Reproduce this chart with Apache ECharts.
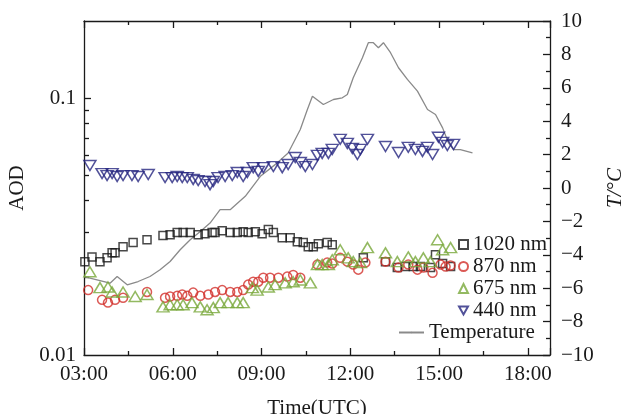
<!DOCTYPE html>
<html lang="en">
<head>
<meta charset="UTF-8">
<title>AOD and temperature</title>
<script src="https://cdn.jsdelivr.net/npm/echarts@6.0.0/dist/echarts.min.js"></script>
<style>
    body{ margin:0; background:#fff; }
    #main{ width:624px; height:414px; }
</style>
</head>
<body>
<div id="main"></div>
<script>
// times in decimal hours (UTC), AOD values
var t1020 = [3.03,3.27,3.54,3.78,3.95,4.05,4.32,4.66,5.13,5.67,5.91,6.15,6.35,6.59,6.86,7.09,7.33,7.43,7.67,7.94,8.18,8.38,8.55,8.79,9.02,9.23,9.40,9.70,9.97,10.21,10.41,10.58,10.75,10.92,11.22,11.39,12.44,13.19,13.59,13.86,14.13,14.37,14.71,14.88,15.12,15.39];
var aod1020 = [0.0231,0.0241,0.0231,0.0239,0.0250,0.0250,0.0264,0.0274,0.0281,0.0292,0.0294,0.0300,0.0300,0.0300,0.0294,0.0297,0.0300,0.0300,0.0305,0.0300,0.0300,0.0302,0.0300,0.0302,0.0297,0.0308,0.0300,0.0286,0.0286,0.0276,0.0274,0.0264,0.0264,0.0271,0.0274,0.0269,0.0239,0.0231,0.0219,0.0221,0.0221,0.0221,0.0219,0.0246,0.0227,0.0221];

var t870 = [3.14,3.61,3.81,4.05,4.32,5.13,5.74,5.91,6.15,6.32,6.49,6.69,6.93,7.20,7.43,7.67,7.94,8.18,8.38,8.55,8.72,8.89,9.06,9.29,9.57,9.87,10.07,10.31,10.89,11.22,11.39,11.66,11.90,12.10,12.27,12.51,13.19,13.63,13.96,14.27,14.47,14.78,15.05,15.22,15.39];
var aod870 = [0.0179,0.0164,0.0160,0.0164,0.0167,0.0176,0.0167,0.0169,0.0170,0.0172,0.0170,0.0175,0.0170,0.0172,0.0176,0.0179,0.0176,0.0176,0.0179,0.0188,0.0193,0.0193,0.0200,0.0200,0.0200,0.0202,0.0205,0.0200,0.0225,0.0229,0.0227,0.0239,0.0231,0.0225,0.0215,0.0229,0.0231,0.0219,0.0225,0.0215,0.0219,0.0209,0.0225,0.0221,0.0223];

var t675 = [3.20,3.54,3.81,3.95,4.32,4.73,5.13,5.67,5.91,6.15,6.35,6.65,6.93,7.16,7.37,7.60,7.87,8.18,8.38,8.69,8.85,9.23,9.46,9.80,10.07,10.31,10.65,10.89,11.05,11.26,11.39,11.66,11.93,12.10,12.34,12.58,13.19,13.59,13.96,14.20,14.47,14.71,14.95,15.12,15.39];
var aod675 = [0.0211,0.0183,0.0184,0.0176,0.0176,0.0169,0.0172,0.0154,0.0157,0.0157,0.0157,0.0160,0.0154,0.0150,0.0153,0.0160,0.0160,0.0160,0.0160,0.0183,0.0179,0.0184,0.0188,0.0191,0.0193,0.0196,0.0191,0.0225,0.0225,0.0225,0.0235,0.0257,0.0239,0.0231,0.0229,0.0262,0.0250,0.0231,0.0241,0.0231,0.0239,0.0231,0.0281,0.0257,0.0262];

var t440 = [3.20,3.61,3.78,3.95,4.12,4.32,4.62,4.83,5.17,5.74,5.98,6.15,6.32,6.49,6.69,6.86,7.09,7.26,7.37,7.53,7.77,8.01,8.18,8.38,8.52,8.72,8.89,9.06,9.40,9.70,9.90,10.14,10.31,10.48,10.72,10.89,11.05,11.26,11.39,11.66,11.90,12.07,12.24,12.34,12.58,13.19,13.63,13.96,14.20,14.44,14.61,14.78,14.98,15.12,15.28,15.49];
var aod440 = [0.0547,0.0509,0.0500,0.0509,0.0496,0.0500,0.0500,0.0496,0.0505,0.0491,0.0491,0.0496,0.0491,0.0491,0.0483,0.0478,0.0474,0.0461,0.0474,0.0491,0.0496,0.0500,0.0514,0.0496,0.0514,0.0537,0.0519,0.0537,0.0542,0.0537,0.0552,0.0588,0.0562,0.0542,0.0552,0.0599,0.0610,0.0610,0.0632,0.0692,0.0667,0.0638,0.0604,0.0632,0.0692,0.0649,0.0615,0.0644,0.0632,0.0621,0.0644,0.0604,0.0705,0.0673,0.0655,0.0661];

// temperature (right axis, deg C)
var tTemp = [3.00,3.88,4.12,4.46,4.83,5.23,5.57,5.91,6.25,6.59,6.93,7.26,7.60,7.94,8.45,8.96,9.46,9.90,10.31,10.55,10.72,11.09,11.43,11.73,11.90,12.10,12.41,12.61,12.78,12.95,13.12,13.36,13.63,13.93,14.27,14.61,14.88,15.12,15.32,15.49,15.72,16.13];
var temp = [-5.3,-5.7,-5.3,-5.8,-5.6,-5.3,-4.9,-4.4,-3.7,-3.1,-2.6,-2.1,-1.3,-1.3,-0.5,0.7,1.4,2.1,3.5,4.7,5.5,5.0,5.3,5.4,5.6,6.6,7.8,8.7,8.7,8.4,8.7,8.1,7.2,6.5,5.8,4.7,4.4,3.6,2.7,2.3,2.3,2.1];

// log axis ticks and labels
var logLabels = [0.01, 0.1];
var logMajor = [0.1];
var logMinor = [0.02,0.03,0.04,0.05,0.06,0.07,0.08,0.09];

var font = 'Liberation Serif';
var ink = '#1a1a1a';

function pairs(xs, ys){
    return xs.map(function(x, i){ return [x, ys[i]]; });
}
function hourLabel(v){
    if (Math.abs(v % 3) > 1e-6 || v > 18) return '';
    return (v < 10 ? '0' : '') + v + ':00';
}

var myChart = echarts.init(document.getElementById('main'));

var lineStyle = { color: ink, width: 1.3 };
var labelStyle = { fontFamily: font, fontSize: 21, color: ink };

function timeAxis(pos){
    return {
        type: 'value',
        position: pos,
        min: 3,
        max: 18.75,
        interval: 3,
        axisLine: { show: true, onZero: false, lineStyle: lineStyle },
        axisTick: { show: true, inside: true, length: 7, lineStyle: lineStyle },
        minorTick: { show: true, splitNumber: 2, length: 4, lineStyle: lineStyle },
        splitLine: { show: false },
        axisLabel: pos === 'bottom' ? {
            show: true, margin: 9, formatter: hourLabel,
            fontFamily: font, fontSize: 21, color: ink
        } : { show: false }
    };
}

var xBottom = timeAxis('bottom');
xBottom.name = 'Time(UTC)';
xBottom.nameLocation = 'middle';
xBottom.nameGap = 43;
xBottom.nameTextStyle = labelStyle;

var option = {
    animation: false,
    backgroundColor: '#fff',
    grid: { left: 84, right: 74, top: 21, bottom: 59, containLabel: false, outerBoundsMode: 'none' },
    legend: [{
        data: ['1020 nm', '870 nm', '675 nm', '440 nm'],
        orient: 'vertical',
        left: 458,
        top: 234,
        itemGap: 1,
        itemWidth: 9,
        itemHeight: 9,
        padding: 0,
        selectedMode: false,
        textStyle: labelStyle
    }, {
        data: ['Temperature'],
        left: 398,
        top: 322,
        itemWidth: 25,
        itemHeight: 2,
        padding: 0,
        selectedMode: false,
        textStyle: labelStyle
    }],
    xAxis: [xBottom, timeAxis('top')],
    yAxis: [{
        type: 'log',
        logBase: 10,
        min: 0.01,
        max: 0.2,
        position: 'left',
        name: 'AOD',
        nameLocation: 'middle',
        nameRotate: 90,
        nameGap: 54,
        nameTextStyle: labelStyle,
        axisLine: { show: true, lineStyle: lineStyle },
        axisTick: { show: true, inside: true, length: 7, customValues: logMajor, lineStyle: lineStyle },
        splitLine: { show: false },
        axisLabel: {
            margin: 8, fontFamily: font, fontSize: 21, color: ink,
            customValues: logLabels,
            formatter: function(v){
                var e = Math.log10(v);
                if (Math.abs(e - Math.round(e)) > 1e-6) return '';
                return String(Number(v.toPrecision(1)));
            }
        }
    }, {
        type: 'value',
        min: -10,
        max: 10,
        interval: 2,
        position: 'right',
        name: 'T/°C',
        nameLocation: 'middle',
        nameRotate: 90,
        nameGap: 52,
        nameTextStyle: { fontFamily: font, fontSize: 21, color: ink, fontStyle: 'italic' },
        axisLine: { show: true, lineStyle: lineStyle },
        axisTick: { show: true, inside: true, length: 7, lineStyle: lineStyle },
        minorTick: { show: true, splitNumber: 2, length: 4, lineStyle: lineStyle },
        splitLine: { show: false },
        axisLabel: {
            margin: 11, fontFamily: font, fontSize: 21, color: ink,
            formatter: function(v){ return String(v).replace('-', '\u2212'); }
        }
    }, {
        // overlay of the left axis, only for the shorter minor ticks
        type: 'log',
        logBase: 10,
        min: 0.01,
        max: 0.2,
        position: 'left',
        offset: 0,
        axisLine: { show: false },
        axisTick: { show: true, inside: true, length: 5, customValues: logMinor, lineStyle: lineStyle },
        axisLabel: { show: false },
        splitLine: { show: false }
    }],
    series: [{
        name: 'Temperature',
        type: 'line',
        yAxisIndex: 1,
        data: pairs(tTemp, temp),
        symbol: 'none',
        lineStyle: { color: '#8a8a8a', width: 1.3 },
        itemStyle: { color: '#8a8a8a' },
        z: 1
    }, {
        name: '1020 nm',
        type: 'scatter',
        data: pairs(t1020, aod1020),
        symbol: 'rect',
        symbolSize: 8,
        itemStyle: { color: 'rgba(255,255,255,0)', borderColor: '#1a1a1a', borderWidth: 1.5 }
    }, {
        name: '870 nm',
        type: 'scatter',
        data: pairs(t870, aod870),
        symbol: 'circle',
        symbolSize: 9,
        itemStyle: { color: 'rgba(255,255,255,0)', borderColor: '#d2302a', borderWidth: 1.5 }
    }, {
        name: '675 nm',
        type: 'scatter',
        data: pairs(t675, aod675),
        symbol: 'triangle',
        symbolSize: [12, 10],
        itemStyle: { color: 'rgba(255,255,255,0)', borderColor: '#78a83a', borderWidth: 1.5 }
    }, {
        name: '440 nm',
        type: 'scatter',
        data: pairs(t440, aod440),
        symbol: 'path://M0,0 L10,0 L5,9 Z',
        symbolSize: [12, 10],
        itemStyle: { color: 'rgba(255,255,255,0)', borderColor: '#25257f', borderWidth: 1.5 }
    }]
};

myChart.setOption(option);
</script>
</body>
</html>
